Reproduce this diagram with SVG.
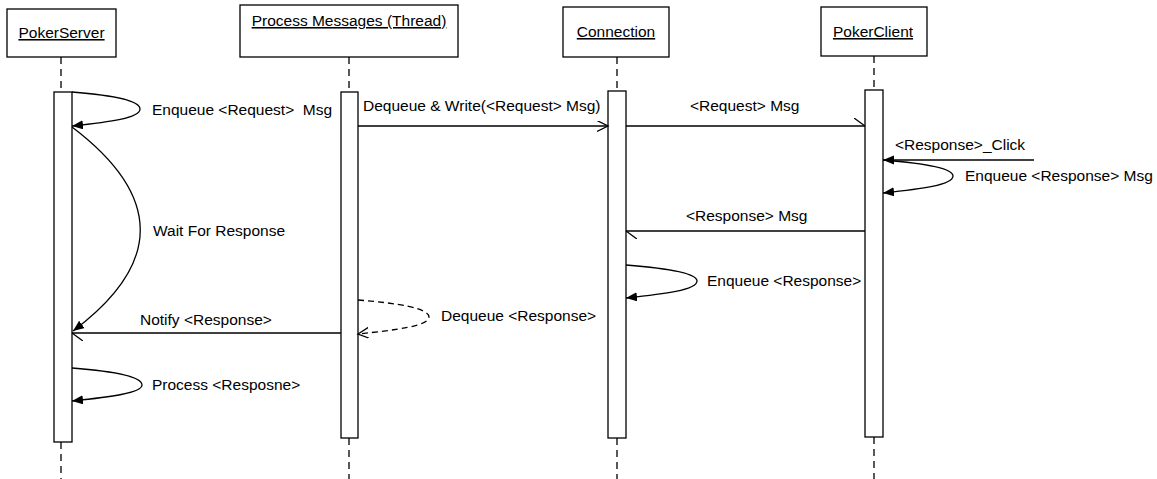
<svg xmlns="http://www.w3.org/2000/svg" width="1157" height="479" viewBox="0 0 1157 479">
  <style>
    .box { fill: #fff; stroke: #000; stroke-width: 1.3; }
    .act { fill: #fff; stroke: #000; stroke-width: 1.3; }
    .life { stroke: #000; stroke-width: 1.3; stroke-dasharray: 7 5; fill: none; }
    .title { font-family: "Liberation Sans", Arial, sans-serif; font-size: 15.5px; text-anchor: middle; text-decoration: underline; fill: #000; }
    .lbl { font-family: "Liberation Sans", Arial, sans-serif; font-size: 15.5px; fill: #000; white-space: pre; }
    .msg { fill: none; stroke: #000; stroke-width: 1.3; }
    .dash { stroke-dasharray: 6 4; }
    .sync { marker-end: url(#filled); }
    .open { marker-end: url(#open); }
    .async { marker-end: url(#half); }
  </style>
  <defs>
    <marker id="filled" markerUnits="userSpaceOnUse" markerWidth="12" markerHeight="10" refX="11" refY="4.5" orient="auto">
      <path d="M0,0 L11,4.5 L0,9 z" fill="#000"/>
    </marker>
    <marker id="open" markerUnits="userSpaceOnUse" markerWidth="13" markerHeight="12" refX="11" refY="5.5" orient="auto">
      <path d="M0,0 L11,5.5 L0,11" fill="none" stroke="#000" stroke-width="1.3"/>
    </marker>
    <marker id="half" markerUnits="userSpaceOnUse" markerWidth="13" markerHeight="10" refX="11" refY="8" orient="auto">
      <path d="M0,0 L11,8" fill="none" stroke="#000" stroke-width="1.3"/>
    </marker>
  </defs>
  <rect width="1157" height="479" fill="#fff"/>

  <!-- lifelines -->
  <g id="pokerserver">
    <line class="life" x1="61" y1="57" x2="61" y2="92"/>
    <line class="life" x1="61" y1="442" x2="61" y2="479"/>
    <rect class="box" x="7" y="9" width="109" height="48"/>
    <text class="title" x="61.5" y="38">PokerServer</text>
    <rect class="act" x="54" y="92" width="18" height="350"/>
  </g>

  <g id="process-messages">
    <line class="life" x1="349" y1="57" x2="349" y2="92"/>
    <line class="life" x1="349" y1="438" x2="349" y2="479"/>
    <rect class="box" x="240" y="5" width="218" height="52"/>
    <text class="title" x="349" y="26">Process Messages (Thread)</text>
    <rect class="act" x="341" y="92" width="17" height="346"/>
  </g>

  <g id="connection">
    <line class="life" x1="617" y1="57" x2="617" y2="91"/>
    <line class="life" x1="617" y1="438" x2="617" y2="479"/>
    <rect class="box" x="563" y="7" width="106" height="50"/>
    <text class="title" x="616" y="37">Connection</text>
    <rect class="act" x="608" y="91" width="18" height="347"/>
  </g>

  <g id="pokerclient">
    <line class="life" x1="874" y1="56" x2="874" y2="90"/>
    <line class="life" x1="874" y1="437" x2="874" y2="479"/>
    <rect class="box" x="821" y="7" width="106" height="49"/>
    <text class="title" x="873" y="37">PokerClient</text>
    <rect class="act" x="865" y="90" width="18" height="347"/>
  </g>

  <!-- messages; self-calls are drawn as pointed loops (start -> tip -> end) -->
  <g id="connectors">
    <path class="msg sync" d="M72,92 C110,95 140,100 140,109 C140,118 110,122 72,126"/>
    <text class="lbl" x="152" y="115" xml:space="preserve">Enqueue &lt;Request&gt;  Msg</text>

    <path class="msg sync" d="M72,127 Q208,230 73,331"/>
    <text class="lbl" x="153" y="236">Wait For Response</text>

    <path class="msg open" d="M358,126 L608,126"/>
    <text class="lbl" x="363" y="111">Dequeue &amp; Write(&lt;Request&gt; Msg)</text>

    <path class="msg async" d="M626,126 L865,126"/>
    <text class="lbl" x="690" y="111">&lt;Request&gt; Msg</text>

    <path class="msg sync" d="M1034,160 L883,160"/>
    <text class="lbl" x="895" y="150">&lt;Response&gt;_Click</text>

    <path class="msg sync" d="M883,160 C921,163 953,168 953,176 C953,185 921,189 883,193"/>
    <text class="lbl" x="965" y="181">Enqueue &lt;Response&gt; Msg</text>

    <path class="msg async" d="M865,231 L626,231"/>
    <text class="lbl" x="686" y="221">&lt;Response&gt; Msg</text>

    <path class="msg sync" d="M626,265 C664,268 697,273 697,281 C697,290 664,294 626,298"/>
    <text class="lbl" x="707" y="286">Enqueue &lt;Response&gt;</text>

    <path class="msg dash open" d="M358,300 C396,303 429,308 429,317 C429,326 396,330 358,334"/>
    <text class="lbl" x="441" y="321">Dequeue &lt;Response&gt;</text>

    <path class="msg async" d="M341,333 L72,333"/>
    <text class="lbl" x="140" y="325">Notify &lt;Response&gt;</text>

    <path class="msg sync" d="M72,368 C110,371 142,376 142,385 C142,393 110,397 72,401"/>
    <text class="lbl" x="152" y="390">Process &lt;Resposne&gt;</text>
  </g>
</svg>
